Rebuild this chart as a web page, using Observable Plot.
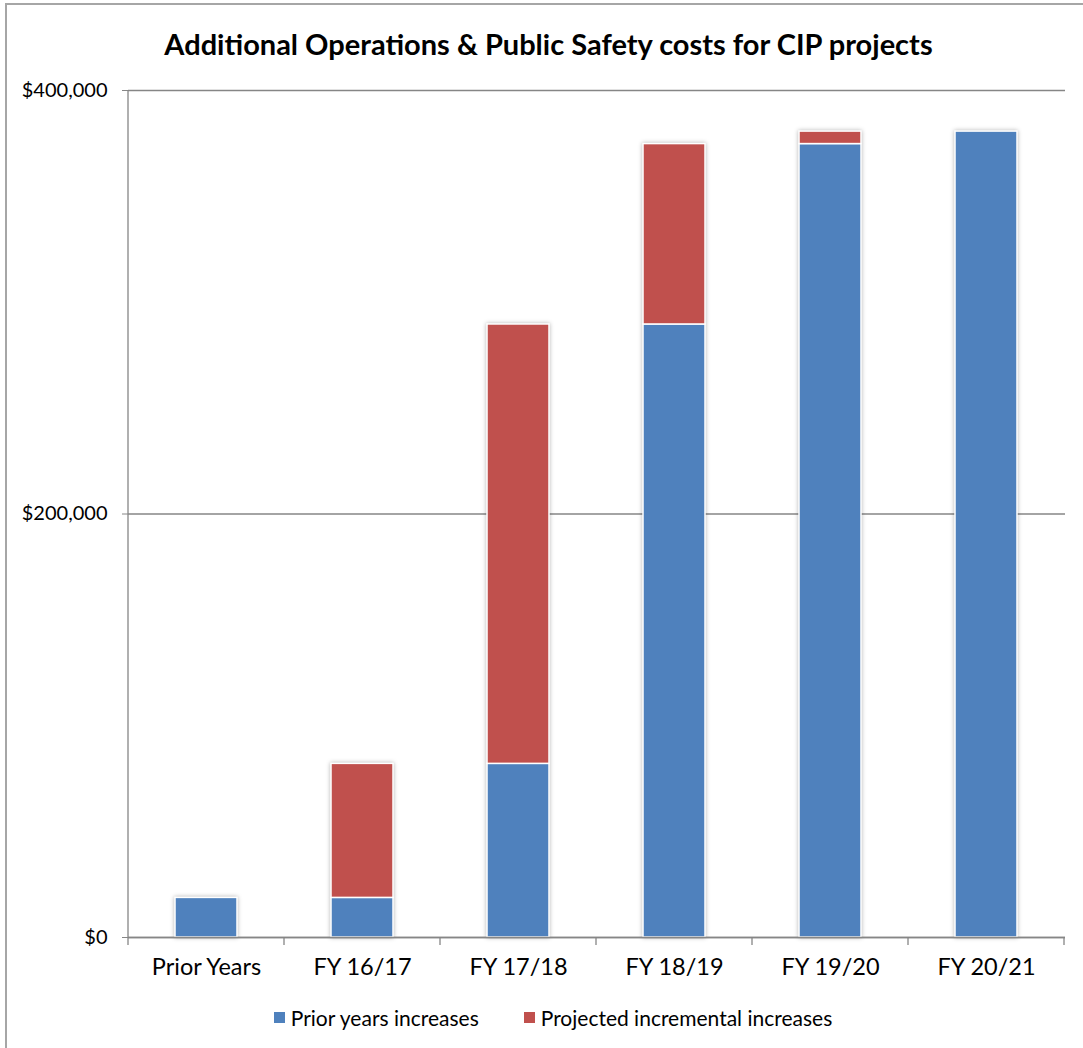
<!DOCTYPE html>
<html>
<head>
<meta charset="utf-8">
<script src="https://cdn.jsdelivr.net/npm/d3@7"></script>
<script src="https://cdn.jsdelivr.net/npm/@observablehq/plot@0.6"></script>
<style>
  html, body { margin: 0; padding: 0; background: #fff; }
  #wrap { position: relative; width: 1083px; height: 1048px; overflow: hidden; font-family: Lato, "Noto Sans", sans-serif; }
  #frame { position: absolute; left: 5px; top: 3px; width: 1100px; height: 1100px; border: 2px solid #a6a6a6; box-sizing: border-box; }
  #title { position: absolute; left: 0; top: 0; width: 1083px; height: 60px; text-align: center; font-weight: bold; font-size: 29px; line-height: 1; padding-top: 29px; padding-left: 14px; box-sizing: border-box; color: #000; }
  #chart { position: absolute; left: 0; top: 60px; }
  #legend { position: absolute; left: 0; top: 1005px; width: 1083px; display: flex; justify-content: center; gap: 45px; font-size: 21px; color: #000; padding-left: 23px; box-sizing: border-box; }
  .item { display: flex; align-items: center; gap: 6px; }
  .sw { width: 11px; height: 11px; display: inline-block; }
</style>
</head>
<body>
<div id="wrap">
  <div id="frame"></div>
  <div id="title">Additional Operations &amp; Public Safety costs for CIP projects</div>
  <div id="chart"></div>
  <div id="legend"></div>
</div>
<script>
const categories = ["Prior Years", "FY 16/17", "FY 17/18", "FY 18/19", "FY 19/20", "FY 20/21"];
const seriesNames = ["Prior years increases", "Projected incremental increases"];
const priorIncreases = [18700, 18700, 82000, 289500, 374700, 380600];
const projectedIncreases = [0, 63300, 207500, 85200, 5900, 0];
const yTicks = [0, 200000, 400000];
const colors = ["#4F81BD", "#C0504D"];

const data = [];
categories.forEach((c, i) => {
  data.push({cat: c, series: seriesNames[0], value: priorIncreases[i]});
  data.push({cat: c, series: seriesNames[1], value: projectedIncreases[i]});
});

const axisColor = "#868686";

function frameLines() {
  return (index, scales, values, dims) => {
    const x = scales.x;
    const g = d3.create("svg:g");
    const cats = x.domain();
    const bw = x.bandwidth();
    const step = x.step();
    const bounds = cats.map(c => x(c) + bw / 2 - step / 2);
    bounds.push(x(cats[cats.length - 1]) + bw / 2 + step / 2);
    const y0 = dims.height - dims.marginBottom;
    g.selectAll("line.t").data(bounds).join("line")
      .attr("x1", d => d).attr("x2", d => d)
      .attr("y1", y0).attr("y2", y0 + 8)
      .attr("stroke", axisColor).attr("stroke-width", 1.3);
    g.append("line")
      .attr("x1", dims.marginLeft).attr("x2", dims.marginLeft)
      .attr("y1", dims.marginTop).attr("y2", y0)
      .attr("stroke", axisColor).attr("stroke-width", 1.3);
    return g.node();
  };
}

const chart = Plot.plot({
  width: 1083,
  height: 930,
  marginTop: 30,
  marginBottom: 53,
  marginLeft: 128,
  marginRight: 18,
  style: { fontFamily: "Lato, 'Noto Sans', sans-serif", color: "#000", background: "transparent" },
  x: { domain: categories, paddingInner: 0.6, paddingOuter: 0.3, label: null },
  y: { domain: [0, 400000], label: null },
  color: { domain: seriesNames, range: colors },
  marks: [
    Plot.gridY(yTicks, { stroke: axisColor, strokeOpacity: 1, strokeWidth: 1.3 }),
    Plot.barY(data, Plot.stackY({
      x: "cat", y: "value", fill: "series",
      stroke: "white", strokeWidth: 1.5
    })),
    Plot.ruleY([0], { stroke: axisColor, strokeWidth: 1.3 }),
    Plot.axisY({
      ticks: yTicks, tickSize: 6, tickPadding: 15, fontSize: 20,
      stroke: axisColor,
      tickFormat: d => "$" + d3.format(",")(d)
    }),
    Plot.axisX({ tickSize: 0, tickPadding: 21, fontSize: 23.5 }),
    frameLines()
  ]
});
chart.querySelectorAll("g[aria-label='bar']").forEach(g => g.setAttribute("style", "filter: drop-shadow(0px 0px 2px rgba(0,0,0,0.3))"));
document.getElementById("chart").appendChild(chart);

const legend = document.getElementById("legend");
seriesNames.forEach((s, i) => {
  const it = document.createElement("div");
  it.className = "item";
  const sw = document.createElement("span");
  sw.className = "sw";
  sw.style.background = colors[i];
  const t = document.createElement("span");
  t.textContent = s;
  it.appendChild(sw);
  it.appendChild(t);
  legend.appendChild(it);
});
</script>
</body>
</html>
